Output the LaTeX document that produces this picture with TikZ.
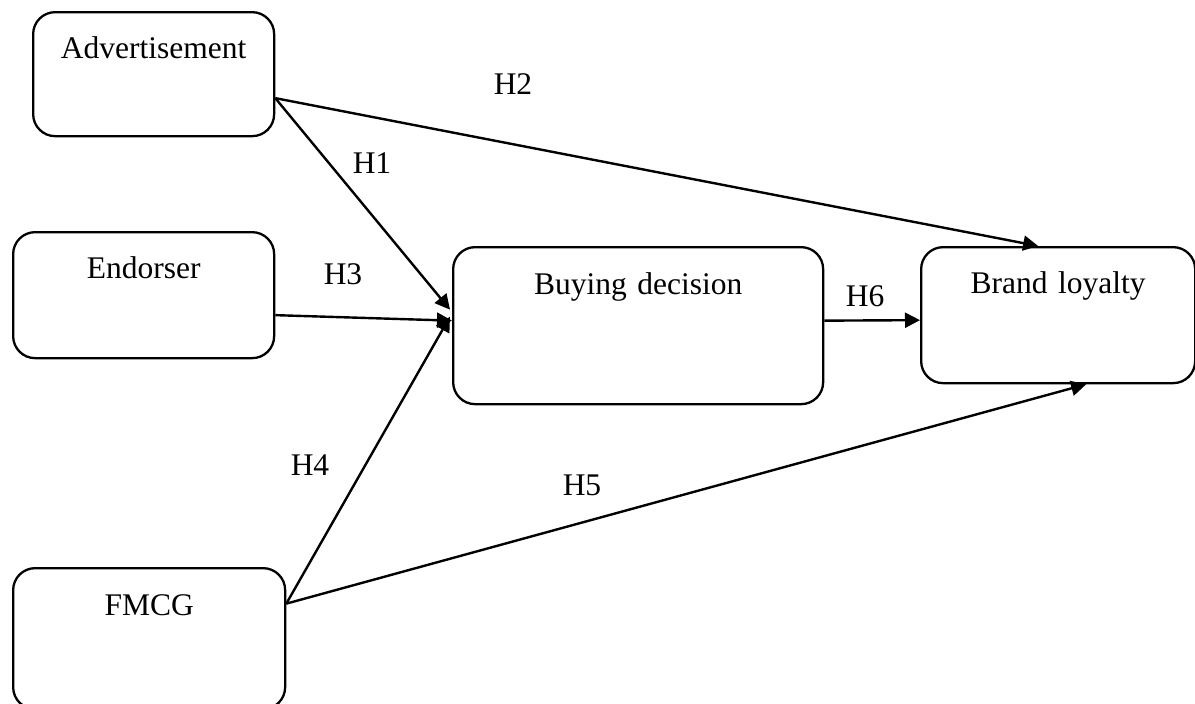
\documentclass[tikz,border=0pt]{standalone}
\usepackage{fontspec}
\setmainfont{Liberation Serif}
\usetikzlibrary{arrows.meta}
\begin{document}
\begin{tikzpicture}[x=1pt,y=-1pt,
  every node/.style={font=\fontsize{31.5}{38}\selectfont},
  box/.style={draw, line width=2.3pt, rounded corners=22pt, inner sep=0pt,
    align=center, anchor=north west},
  hyp/.style={anchor=base, inner sep=0pt},
  link/.style={line width=2.4pt, -{Triangle[length=15pt,width=15pt]}}]
\useasboundingbox (0,0) rectangle (1195,704);
\clip (0,0) rectangle (1195,704);
\node[box, text width=241pt, text height=46pt, text depth=78pt] (adv) at (32,11) {Advertisement};
\node[box, text width=261pt, text height=46pt, text depth=80pt] (end) at (12,231) {Endorser};
\node[box, text width=272pt, text height=47pt, text depth=94pt] (fmcg) at (12,567) {FMCG};
\node[box, text width=370pt, text height=47pt, text depth=110pt] (bd) at (452,246) {Buying decision};
\node[box, text width=274pt, text height=46pt, text depth=90pt] (bl) at (920,246) {Brand loyalty};
\draw[link] ([shift={(0,24)}]adv.east) -- ([shift={(-2,-16)}]bd.west);
\draw[link] ([shift={(0,24)}]adv.east) -- ([shift={(-20,0)}]bl.north);
\draw[link] ([shift={(0,20)}]end.east) -- ([shift={(0,-5)}]bd.west);
\draw[link] ([shift={(0,-35)}]fmcg.east) -- ([shift={(-2,-9)}]bd.west);
\draw[link] ([shift={(0,-35)}]fmcg.east) -- ([shift={(28,0)}]bl.south);
\draw[link] ([shift={(0,-5)}]bd.east) -- ([shift={(0,5)}]bl.west);
\node[hyp] (h1) at (372,173) {H1};
\node[hyp] (h2) at (513,94) {H2};
\node[hyp] (h3) at (343,284) {H3};
\node[hyp] (h4) at (310,475) {H4};
\node[hyp] (h5) at (582,495) {H5};
\node[hyp] (h6) at (865,306) {H6};
\end{tikzpicture}
\end{document}
